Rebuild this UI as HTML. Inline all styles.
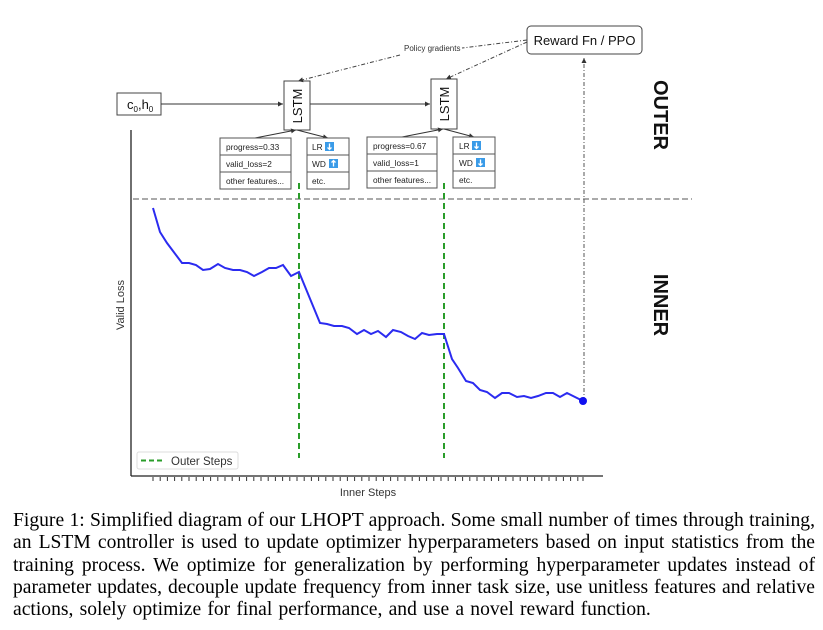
<!DOCTYPE html>
<html><head><meta charset="utf-8"><style>
body{margin:0;background:#fff;width:823px;height:630px;overflow:hidden;position:relative;font-family:"Liberation Sans",sans-serif}
.cap{position:absolute;left:13px;width:802px;font-family:"Liberation Serif",serif;font-size:19.6px;line-height:22.3px;color:#000}
.cap div{text-align:justify;text-align-last:justify;white-space:nowrap}
.cap div.l{text-align-last:left;word-spacing:1.3px}
</style></head><body>
<svg width="823" height="630" style="position:absolute;left:0;top:0" font-family="Liberation Sans, sans-serif">
<defs>
<marker id="a" markerWidth="6" markerHeight="6" refX="5" refY="3" orient="auto"><path d="M0,0.5 L5,3 L0,5.5z" fill="#333"/></marker>
</defs>
<line x1="131" y1="130" x2="131" y2="476" stroke="#222" stroke-width="1.3"/>
<line x1="131" y1="476" x2="603" y2="476" stroke="#222" stroke-width="1.3"/>
<g stroke="#333" stroke-width="1">
<path d="M153,477v4M160.2,477v4M167.4,477v4M174.6,477v4M181.8,477v4M189,477v4M196.2,477v4M203.4,477v4M210.6,477v4M217.8,477v4M225,477v4M232.2,477v4M239.4,477v4M246.6,477v4M253.8,477v4M261,477v4M268.2,477v4M275.4,477v4M282.6,477v4M289.8,477v4M297,477v4M304.2,477v4M311.4,477v4M318.6,477v4M325.8,477v4M333,477v4M340.2,477v4M347.4,477v4M354.6,477v4M361.8,477v4M369,477v4M376.2,477v4M383.4,477v4M390.6,477v4M397.8,477v4M405,477v4M412.2,477v4M419.4,477v4M426.6,477v4M433.8,477v4M441,477v4M448.2,477v4M455.4,477v4M462.6,477v4M469.8,477v4M477,477v4M484.2,477v4M491.4,477v4M498.6,477v4M505.8,477v4M513,477v4M520.2,477v4M527.4,477v4M534.6,477v4M541.8,477v4M549,477v4M556.2,477v4M563.4,477v4M570.6,477v4M577.8,477v4M583,477v4"/>
</g>
<text x="368" y="496" font-size="11" fill="#333" text-anchor="middle">Inner Steps</text>
<text transform="translate(124,305) rotate(-90)" font-size="11" fill="#333" text-anchor="middle">Valid Loss</text>
<line x1="133" y1="199" x2="692" y2="199" stroke="#555" stroke-width="1" stroke-dasharray="6,3"/>
<line x1="299" y1="183" x2="299" y2="458" stroke="#2a9d2a" stroke-width="2" stroke-dasharray="6,4"/>
<line x1="444" y1="183" x2="444" y2="458" stroke="#2a9d2a" stroke-width="2" stroke-dasharray="6,4"/>
<line x1="584" y1="401" x2="584" y2="58" stroke="#555" stroke-width="1" stroke-dasharray="4,2,1,2" marker-end="url(#a)"/>
<polyline fill="none" stroke="#2b2bf0" stroke-width="2" points="153,208 160,232 167,243 182,263 189,263 196,265 203,270 210,269 218,264 225,268 233,270 240,270 247,272 254,276 262,272 269,268 276,268 283,265 291,276 299,272 320,323 327,324 334,326 342,326 349,328 357,334 364,330 371,334 378,331 386,337 393,330 401,332 408,336 415,339 422,333 429,335 437,334 444,334 452,359 458,368 466,381 473,383 480,390 487,392 495,398 502,393 509,393 517,397 524,396 531,398 538,396 546,393 553,393 560,397 567,393 583,401"/>
<circle cx="583" cy="401" r="4" fill="#1010f0"/>
<rect x="137" y="452" width="101" height="17" rx="2" fill="#fff" stroke="#ddd"/>
<line x1="141" y1="460.5" x2="163" y2="460.5" stroke="#2a9d2a" stroke-width="2" stroke-dasharray="5,3"/>
<text x="171" y="465" font-size="11.5" fill="#333">Outer Steps</text>
<rect x="117" y="93" width="44" height="22" fill="#fff" stroke="#444"/>
<text x="127" y="109" font-size="13" fill="#111">c<tspan font-size="8" dy="3">0</tspan><tspan dy="-3">,h</tspan><tspan font-size="8" dy="3">0</tspan></text>
<line x1="161" y1="104" x2="283" y2="104" stroke="#333" marker-end="url(#a)"/>
<line x1="310" y1="104" x2="430" y2="104" stroke="#333" marker-end="url(#a)"/>
<rect x="284" y="81" width="26" height="49" fill="#fff" stroke="#444"/>
<text transform="translate(302,106) rotate(-90)" font-size="13" fill="#111" text-anchor="middle">LSTM</text>
<rect x="431" y="79" width="26" height="50" fill="#fff" stroke="#444"/>
<text transform="translate(449,104) rotate(-90)" font-size="13" fill="#111" text-anchor="middle">LSTM</text>
<line x1="255" y1="138" x2="296" y2="130" stroke="#333" marker-end="url(#a)"/>
<line x1="297" y1="130" x2="328" y2="138" stroke="#333" marker-end="url(#a)"/>
<line x1="402" y1="137" x2="443" y2="129" stroke="#333" marker-end="url(#a)"/>
<line x1="444" y1="129" x2="474" y2="137" stroke="#333" marker-end="url(#a)"/>
<g stroke="#555" fill="#fff">
<rect x="220" y="138" width="71" height="51"/><line x1="220" y1="155" x2="291" y2="155"/><line x1="220" y1="172" x2="291" y2="172"/>
<rect x="307" y="138" width="42" height="51"/><line x1="307" y1="155" x2="349" y2="155"/><line x1="307" y1="172" x2="349" y2="172"/>
<rect x="367" y="137" width="70" height="51"/><line x1="367" y1="154" x2="437" y2="154"/><line x1="367" y1="171" x2="437" y2="171"/>
<rect x="453" y="137" width="42" height="51"/><line x1="453" y1="154" x2="495" y2="154"/><line x1="453" y1="171" x2="495" y2="171"/>
</g>
<g font-size="8.3" fill="#222">
<text x="226" y="150">progress=0.33</text><text x="226" y="167">valid_loss=2</text><text x="226" y="184">other features...</text>
<text x="312" y="150">LR</text><text x="312" y="167">WD</text><text x="312" y="184">etc.</text>
<text x="373" y="149">progress=0.67</text><text x="373" y="166">valid_loss=1</text><text x="373" y="183">other features...</text>
<text x="459" y="149">LR</text><text x="459" y="166">WD</text><text x="459" y="183">etc.</text>
</g>
<g fill="#3a9be8">
<rect x="325" y="142" width="9" height="9"/><rect x="329" y="159" width="9" height="9"/>
<rect x="472" y="141" width="9" height="9"/><rect x="476" y="158" width="9" height="9"/>
</g>
<g stroke="#fff" stroke-width="1.3" fill="none">
<path d="M329.5,143.5v6M327.5,147.5l2,2l2,-2"/>
<path d="M333.5,166.5v-6M331.5,162.5l2,-2l2,2"/>
<path d="M476.5,142.5v6M474.5,146.5l2,2l2,-2"/>
<path d="M480.5,159.5v6M478.5,163.5l2,2l2,-2"/>
</g>
<rect x="527" y="26" width="115" height="28" rx="4" fill="#fff" stroke="#444"/>
<text x="584.5" y="45" font-size="13" fill="#111" text-anchor="middle">Reward Fn / PPO</text>
<path d="M527,40 L462,48" stroke="#444" fill="none" stroke-dasharray="4,2,1,2"/>
<path d="M400,55 L298,81" stroke="#444" fill="none" stroke-dasharray="4,2,1,2" marker-end="url(#a)"/>
<path d="M527,42 L446,79" stroke="#444" fill="none" stroke-dasharray="4,2,1,2" marker-end="url(#a)"/>
<text x="404" y="51" font-size="8" fill="#333">Policy gradients</text>
<text transform="translate(654,115) rotate(90)" font-size="20" font-weight="bold" fill="#111" text-anchor="middle">OUTER</text>
<text transform="translate(654,305) rotate(90)" font-size="20" font-weight="bold" fill="#111" text-anchor="middle">INNER</text>
</svg>
<div class="cap" style="top:510px">
<div>Figure 1: Simplified diagram of our LHOPT approach. Some small number of times through training,</div>
<div>an LSTM controller is used to update optimizer hyperparameters based on input statistics from the</div>
<div>training process. We optimize for generalization by performing hyperparameter updates instead of</div>
<div>parameter updates, decouple update frequency from inner task size, use unitless features and relative</div>
<div class="l">actions, solely optimize for final performance, and use a novel reward function.</div>
</div>
</body></html>
